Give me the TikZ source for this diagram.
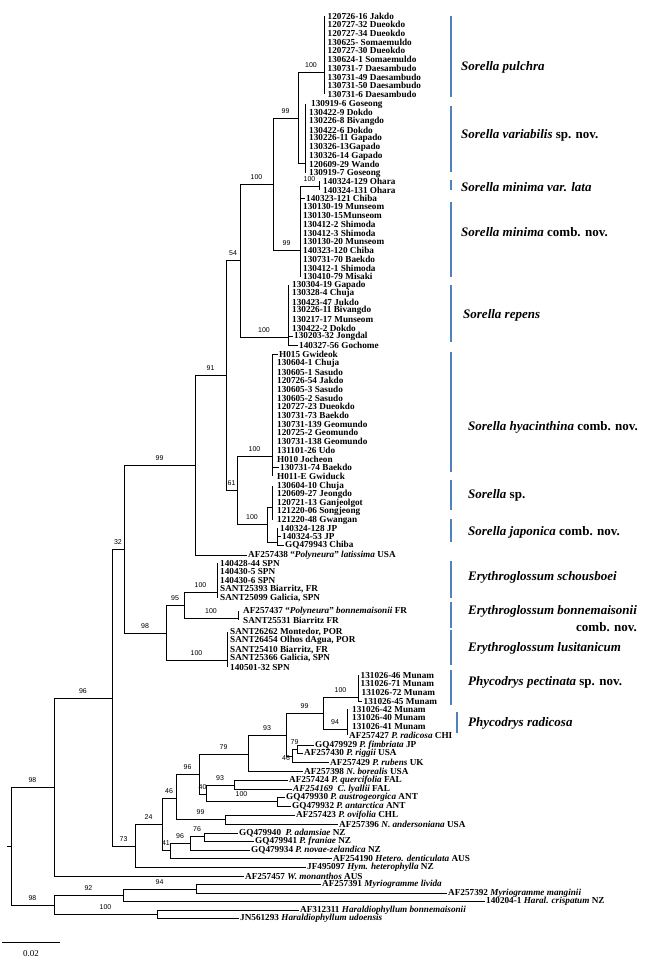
\documentclass[tikz,border=0pt]{standalone}
\usepackage{fontspec}
\setmainfont{Liberation Serif}
\newfontfamily\bsfont{Liberation Sans}
\usetikzlibrary{calc}
\definecolor{barblue}{RGB}{79,129,189}

\tikzset{
  branch/.style={line width=0.9pt},
  leaf/.style={anchor=west,inner xsep=1.5pt,inner ysep=0pt,font=\fontsize{9.2}{9.2}\selectfont\bfseries},
  bs/.style={font=\bsfont\fontsize{7}{7}\selectfont,inner sep=0pt,above=4pt},
  clade/.style={anchor=west,inner sep=0pt,align=right,font=\fontsize{13}{17}\selectfont\bfseries},
  cladebar/.style={draw=barblue,line width=2pt},
}
\newcommand{\treebr}[3]{\draw[branch] (#1) |- node[bs,pos=0.75]{#3} (#2);}

\begin{document}
\begin{tikzpicture}[x=1pt,y=-1pt]
	\useasboundingbox (0,0) rectangle (662,962);
	% internal nodes
	\coordinate (stub) at (7,846); \coordinate (root) at (11,846);
	\coordinate (n98a) at (54,787); \coordinate (n98b) at (54,905);
	\coordinate (n96) at (112,698); \coordinate (n32) at (124,549);
	\coordinate (n99) at (195,465); \coordinate (n91) at (226,375);
	\coordinate (n54) at (240,260); \coordinate (n100a) at (273,184);
	\coordinate (n99a) at (298,118); \coordinate (pul) at (324,72);
	\coordinate (var) at (305,163); \coordinate (n99b) at (300,250);
	\coordinate (lata) at (319,186); \coordinate (rep) at (288,337);
	\coordinate (n61) at (237,490); \coordinate (hya) at (272,456);
	\coordinate (n100c) at (267,524); \coordinate (ssp) at (272,507);
	\coordinate (jap) at (277,542);
	\coordinate (n98c) at (166,633); \coordinate (n95) at (184,605);
	\coordinate (sch) at (217,592); \coordinate (bon) at (238,618);
	\coordinate (lus) at (227,660);
	\coordinate (n73) at (135,846); \coordinate (n24) at (162,824);
	\coordinate (n46a) at (176,798); \coordinate (n96b) at (199,774);
	\coordinate (n79a) at (248,754); \coordinate (n93a) at (286,735);
	\coordinate (n99d) at (323,713); \coordinate (pec) at (358,697);
	\coordinate (rad) at (347,729); \coordinate (n46b) at (292,756);
	\coordinate (n79b) at (297,749); \coordinate (n40) at (206,794);
	\coordinate (n93b) at (234,785); \coordinate (n100e) at (277,801);
	\coordinate (n99c) at (225,819); \coordinate (n41) at (170,850);
	\coordinate (n96c) at (190,843); \coordinate (n76) at (204,836);
	\coordinate (n92) at (123,895); \coordinate (n94) at (196,889);
	\coordinate (n100h) at (157,914);

	% Sorella leaves
	\foreach \t [count=\i from 0] in {120726-16 Jakdo,120727-32 Dueokdo,120727-34 Dueokdo,130625- Somaemuldo,120727-30 Dueokdo,130624-1 Somaemuldo,130731-7 Daesambudo,130731-49 Daesambudo,130731-50 Daesambudo,130731-6 Daesambudo}
		\node[leaf] (pu\i) at (326,{16+8.7*\i}) {\t};
	\foreach \t/\d [count=\i from 0] in {130919-6 Goseong/2,130422-9 Dokdo/0,130226-8 Bivangdo/0,130422-6 Dokdo/0,130226-11 Gapado/0,130326-13Gapado/0,130326-14 Gapado/0,120609-29 Wando/0,130919-7 Goseong/0}
		\node[leaf] (va\i) at ({307.5+\d},{104+8.65*\i}) {\t};
	\foreach \t [count=\i from 0] in {140324-129 Ohara,140324-131 Ohara}
		\node[leaf] (la\i) at (321.5,{181+9*\i}) {\t};
	\foreach \t/\d [count=\i from 0] in {140323-121 Chiba/3,130130-19 Munseom/0,130130-15Munseom/0,130412-2 Shimoda/0,130412-3 Shimoda/0,130130-20 Munseom/0,140323-120 Chiba/0,130731-70 Baekdo/0,130412-1 Shimoda/0,130410-79 Misaki/0}
		\node[leaf] (mi\i) at ({301.5+\d},{198+8.76*\i}) {\t};
	\foreach \t/\d [count=\i from 0] in {130304-19 Gapado/0,130328-4 Chuja/0,130423-47 Jukdo/0,130226-11 Bivangdo/0,130217-17 Munseom/0,130422-2 Dokdo/0,130203-32 Jongdal/2,140327-56 Gochome/7}
		\node[leaf] (re\i) at ({290.5+\d},{285+8.6*\i}) {\t};
	\foreach \t/\d [count=\i from 0] in {H015 Gwideok/2,130604-1 Chuja/0,130605-1 Sasudo/0,120726-54 Jakdo/0,130605-3 Sasudo/0,130605-2 Sasudo/0,120727-23 Dueokdo/0,130731-73 Baekdo/0,130731-139 Geomundo/0,120725-2 Geomundo/0,130731-138 Geomundo/0,131101-26 Udo/0,H010 Jocheon/0,130731-74 Baekdo/3,H011-E Gwiduck/0}
		\node[leaf] (hy\i) at ({275.5+\d},{354.5+8.7*\i}) {\t};
	\foreach \t [count=\i from 0] in {130604-10 Chuja,120609-27 Jeongdo,120721-13 Ganjeolgot,121220-06 Songjeong,121220-48 Gwangan}
		\node[leaf] (sp\i) at (275.5,{486+8.6*\i}) {\t};
	\foreach \t/\d [count=\i from 0] in {140324-128 JP/0,140324-53 JP/2,GQ479943 Chiba/5}
		\node[leaf] (ja\i) at ({278.5+\d},{528+8.6*\i}) {\t};
	\node[leaf] (af438) at (246.5,555) {AF257438 ``\textit{Polyneura}'' \textit{latissima} USA};

	% Erythroglossum leaves
	\foreach \t [count=\i from 0] in {140428-44 SPN,140430-5 SPN,140430-6 SPN,{SANT25393 Biarritz, FR},{SANT25099 Galicia, SPN}}
		\node[leaf] (sc\i) at (218.5,{563+8.76*\i}) {\t};
	\node[leaf] (bo0) at (241.5,611) {AF257437 ``\textit{Polyneura}'' \textit{bonnemaisonii} FR};
	\node[leaf] (bo1) at (241.5,620) {SANT25531 Biarritz FR};
	\foreach \t [count=\i from 0] in {{SANT26262 Montedor, POR},{SANT26454 Olhos dAgua, POR},{SANT25410 Biarritz, FR},{SANT25366 Galicia, SPN},140501-32 SPN}
		\node[leaf] (lu\i) at (228.5,{632+8.76*\i}) {\t};

	% Phycodrys and outgroup leaves
	\foreach \t/\d [count=\i from 0] in {131026-46 Munam/0,131026-71 Munam/0,131026-72 Munam/1,131026-45 Munam/3}
		\node[leaf] (pe\i) at ({359+\d},{675+8.76*\i}) {\t};
	\foreach \t [count=\i from 0] in {131026-42 Munam,131026-40 Munam,131026-41 Munam}
		\node[leaf] (ra\i) at (350.5,{709+8.76*\i}) {\t};
	\node[leaf] (ra3) at (347.5,735) {AF257427 \textit{P. radicosa} CHI};
	\node[leaf] (fim) at (313.5,745) {GQ479929 \textit{P. fimbriata} JP};
	\node[leaf] (rig) at (302.5,753) {AF257430 \textit{P. riggii} USA};
	\node[leaf] (rub) at (328.5,762) {AF257429 \textit{P. rubens} UK};
	\node[leaf] (bor) at (302.5,771) {AF257398 \textit{N. borealis} USA};
	\node[leaf] (que) at (287.5,780) {AF257424 \textit{P. quercifolia} FAL};
	\node[leaf] (lya) at (291.5,789) {\textit{AF254169 \ C. lyallii} FAL};
	\node[leaf] (aus) at (284.5,797) {GQ479930 \textit{P. austrogeorgica} ANT};
	\node[leaf] (ant) at (290.5,806) {GQ479932 \textit{P. antarctica} ANT};
	\node[leaf] (ovi) at (294.5,815) {AF257423 \textit{P. ovifolia} CHL};
	\node[leaf] (nand) at (337.5,824) {AF257396 \textit{N. andersoniana} USA};
	\node[leaf] (ada) at (237.5,833) {GQ479940 \ \textit{P. adamsiae} NZ};
	\node[leaf] (fra) at (253.5,841) {GQ479941 \textit{P. franiae} NZ};
	\node[leaf] (nov) at (249.5,850) {GQ479934 \textit{P. novae-zelandica} NZ};
	\node[leaf] (het) at (331.5,858) {AF254190 \textit{Hetero. denticulata} AUS};
	\node[leaf] (hym) at (305.5,867) {JF495097 \textit{Hym. heterophylla} NZ};
	\node[leaf] (wmo) at (243.5,876) {AF257457 \textit{W. monanthos} AUS};
	\node[leaf] (liv) at (320.5,884) {AF257391 \textit{Myriogramme livida}};
	\node[leaf] (man) at (446.5,893) {AF257392 \textit{Myriogramme manginii}};
	\node[leaf] (cri) at (484.5,901) {140204-1 \textit{Haral. crispatum} NZ};
	\node[leaf] (hbo) at (298.5,910) {AF312311 \textit{Haraldiophyllum bonnemaisonii}};
	\node[leaf] (udo) at (238.5,918) {JN561293 \textit{Haraldiophyllum udoensis}};

	% clade lines at the tips
	\draw[branch] (pu0.west -| pul) -- (pu9.west -| pul);
	\draw[branch] (va0.west -| var) -- (va8.west -| var);
	\draw[branch] (la0.west -| lata) -- (la1.west -| lata);
	\draw[branch] (lata -| n99b) -- (mi9.west -| n99b);
	\draw[branch] (mi0.west -| n99b) -- (mi0.west);
	\draw[branch] (re0.west -| rep) -- (re7.west -| rep);
	\draw[branch] (re6.west -| rep) -- (re6.west) (re7.west -| rep) -- (re7.west);
	\draw[branch] (hy0.west -| hya) -- (hy14.west -| hya);
	\draw[branch] (hy0.west -| hya) -- (hy0.west) (hy13.west -| hya) -- (hy13.west);
	\draw[branch] (sp0.west -| ssp) -- (sp4.west -| ssp);
	\draw[branch] (ja0.west -| jap) -- (ja2.west -| jap);
	\draw[branch] (ja1.west -| jap) -- (ja1.west) (ja2.west -| jap) -- (ja2.west);
	\draw[branch] (sc0.west -| sch) -- (sc4.west -| sch);
	\draw[branch] (bo0.west -| bon) -- (bo1.west -| bon);
	\draw[branch] (lu0.west -| lus) -- (lu4.west -| lus);
	\draw[branch] (pe0.west -| pec) -- (pe3.west -| pec) (pe3.west -| pec) -- (pe3.west);
	\draw[branch] (ra0.west -| rad) -- (ra3.west -| rad);

	% branches with bootstrap values
	\draw[branch] (stub) -- (root);
	\treebr{root}{n98a}{98} \treebr{root}{n98b}{98}
	\treebr{n98a}{n96}{96} \treebr{n98a}{wmo.west}{}
	\treebr{n96}{n32}{32} \treebr{n96}{n73}{73}
	\treebr{n32}{n99}{99} \treebr{n32}{n98c}{98}
	\treebr{n99}{n91}{91} \treebr{n99}{af438.west}{}
	\treebr{n91}{n54}{54} \treebr{n91}{n61}{61}
	\treebr{n54}{n100a}{100} \treebr{n54}{rep}{100}
	\treebr{n100a}{n99a}{99} \treebr{n100a}{n99b}{99}
	\treebr{n99a}{pul}{100} \treebr{n99a}{var}{}
	\treebr{n99b}{lata}{100}
	\treebr{n61}{hya}{100} \treebr{n61}{n100c}{100}
	\treebr{n100c}{ssp}{} \treebr{n100c}{jap}{}
	\treebr{n98c}{n95}{95} \treebr{n98c}{lus}{100}
	\treebr{n95}{sch}{100} \treebr{n95}{bon}{100}
	\treebr{n73}{n24}{24} \treebr{n73}{hym.west}{}
	\treebr{n24}{n46a}{46} \treebr{n24}{n41}{41}
	\treebr{n46a}{n96b}{96} \treebr{n46a}{n99c}{99}
	\treebr{n96b}{n79a}{79} \treebr{n96b}{n40}{40}
	\treebr{n79a}{n93a}{93} \treebr{n79a}{bor.west}{}
	\treebr{n93a}{n99d}{99}
	\draw[branch] (n93a) |- node[bs,pos=0.75,below=3pt,xshift=-3pt]{46} (n46b);
	\treebr{n99d}{pec}{100} \treebr{n99d}{rad}{94}
	\treebr{n46b}{n79b}{79} \treebr{n46b}{rub.west}{}
	\treebr{n79b}{fim.west}{} \treebr{n79b}{rig.west}{}
	\treebr{n40}{n93b}{93} \treebr{n40}{n100e}{100}
	\treebr{n93b}{que.west}{} \treebr{n93b}{lya.west}{}
	\treebr{n100e}{aus.west}{} \treebr{n100e}{ant.west}{}
	\treebr{n99c}{ovi.west}{} \treebr{n99c}{nand.west}{}
	\treebr{n41}{n96c}{96} \treebr{n41}{het.west}{}
	\treebr{n96c}{n76}{76} \treebr{n96c}{nov.west}{}
	\treebr{n76}{ada.west}{} \treebr{n76}{fra.west}{}
	\treebr{n98b}{n92}{92} \treebr{n98b}{n100h}{100}
	\treebr{n92}{n94}{94} \treebr{n92}{cri.west}{}
	\treebr{n94}{liv.west}{} \treebr{n94}{man.west}{}
	\treebr{n100h}{hbo.west}{} \treebr{n100h}{udo.west}{}

	% clade bars and names
	\foreach \a/\b in {16/97,106/172,180/190,202/277,285/342,352/472,480/510,519/542,561/598,602/628,630/665,670/705}
		\draw[cladebar] (451,\a) -- (451,\b);
	\draw[cladebar] (457,712) -- (457,733);
	\node[clade] (cpul) at (461,67) {\textit{Sorella pulchra}};
	\node[clade] (cvar) at (461,135) {\textit{Sorella variabilis} sp. nov.};
	\node[clade] (clat) at (461,187) {\textit{Sorella minima var. lata}};
	\node[clade] (cmin) at (461,232) {\textit{Sorella minima} comb. nov.};
	\node[clade] (crep) at (463,315) {\textit{Sorella repens}};
	\node[clade] (chya) at (468,427) {\textit{Sorella hyacinthina} comb. nov.};
	\node[clade] (cssp) at (468,495) {\textit{Sorella} sp.};
	\node[clade] (cjap) at (468,532) {\textit{Sorella japonica} comb. nov.};
	\node[clade] (csch) at (468,577) {\textit{Erythroglossum schousboei}};
	\node[clade] (cbon) at (468,618.5) {\textit{Erythroglossum bonnemaisonii}\\comb. nov.};
	\node[clade] (clus) at (468,648) {\textit{Erythroglossum lusitanicum}};
	\node[clade] (cpec) at (468,682) {\textit{Phycodrys pectinata} sp. nov.};
	\node[clade] (crad) at (468,723) {\textit{Phycodrys radicosa}};

	% scale bar
	\coordinate (sb0) at (2,942); \coordinate (sb1) at (60,942);
	\draw[branch] (sb0) -- node[below=8pt,inner sep=0pt,font=\fontsize{9}{9}\selectfont]{0.02} (sb1);
\end{tikzpicture}
\end{document}
